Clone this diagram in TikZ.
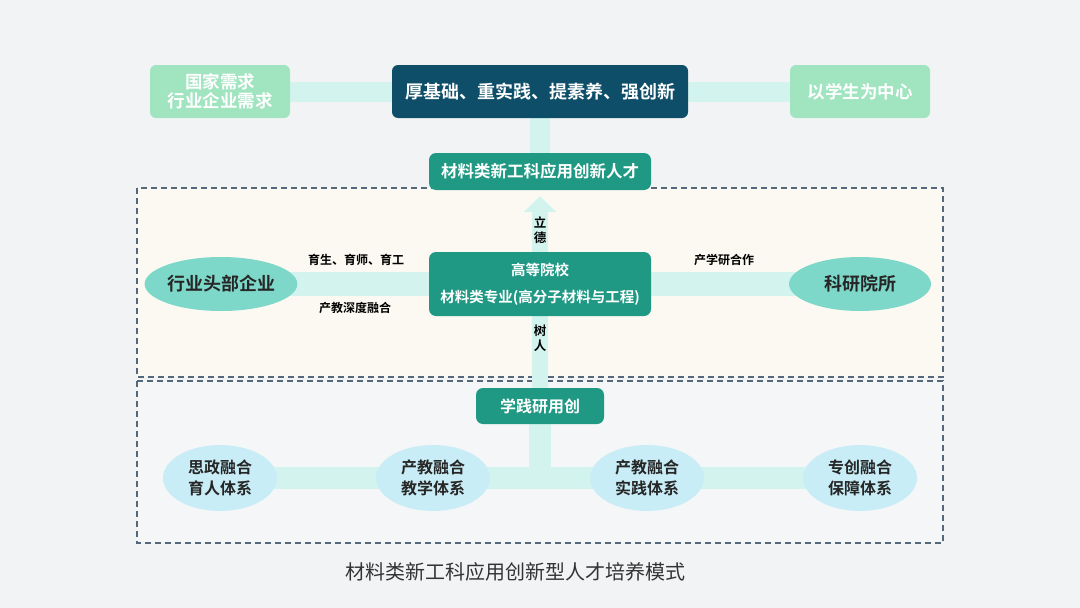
\documentclass[tikz,border=0pt]{standalone}
\usepackage{fontspec}
\setmainfont{Noto Sans CJK SC}[BoldFont={Noto Sans CJK SC Bold}]
\usetikzlibrary{arrows.meta,shapes.geometric}
\definecolor{bgc}{HTML}{F2F3F5}
\definecolor{creamc}{HTML}{FCF9F2}
\definecolor{lowc}{HTML}{F4F6F7}
\definecolor{bandc}{HTML}{D3F4EE}
\definecolor{palegreen}{HTML}{A0E4C0}
\definecolor{darkc}{HTML}{0E4E69}
\definecolor{tealc}{HTML}{1F9983}
\definecolor{aquac}{HTML}{7ED8C9}
\definecolor{lblue}{HTML}{C9EDF6}
\definecolor{dashc}{HTML}{55677A}
\definecolor{capc}{HTML}{333333}
\pgfdeclarelayer{back}
\pgfdeclarelayer{bands}
\pgfsetlayers{back,bands,main}
\tikzset{
  palebox/.style={rectangle, rounded corners=6pt, fill=palegreen, text=white, font=\bfseries\fontsize{17.5}{19}\selectfont, align=center, minimum width=140pt, minimum height=53pt, inner sep=0pt},
  darkbox/.style={rectangle, rounded corners=6pt, fill=darkc, text=white, font=\bfseries\fontsize{18}{21}\selectfont, align=center, minimum height=53pt, inner sep=0pt},
  tealbox/.style={rectangle, rounded corners=7pt, fill=tealc, text=white, align=center, inner sep=0pt},
  aquaell/.style={ellipse, fill=aquac, text=black!85, font=\bfseries\fontsize{18}{22}\selectfont, minimum width=142pt, minimum height=54pt, inner sep=0pt},
  blueell/.style={ellipse, fill=lblue, text=black!85, font=\bfseries\fontsize{16}{21}\selectfont, align=center, minimum width=114pt, minimum height=66pt, inner sep=0pt},
  lbl/.style={text=black, font=\bfseries\fontsize{12}{14}\selectfont, align=center, inner sep=0pt},
  band/.style={draw=bandc, line width=#1},
  band/.default=22pt,
  dashbox/.style={draw=dashc, line width=1.2pt, dash pattern=on 6pt off 4pt}
}
\begin{document}
\begin{tikzpicture}[x=1pt,y=-1pt]
\begin{pgfonlayer}{back}
\fill[bgc] (0,0) rectangle (1080,608);
\draw[dashbox, fill=creamc] (137,188) rectangle (943,377);
\draw[dashbox, fill=lowc] (137,381) rectangle (943,543);
\end{pgfonlayer}
\useasboundingbox (0,0) rectangle (1080,608);

% top row
\node[palebox] (nat) at (220,91.5) {国家需求\\行业企业需求};
\node[darkbox, minimum width=296pt] (core) at (540,91.5) {厚基础、重实践、提素养、强创新};
\node[palebox] (stu) at (860,91.5) {以学生为中心};
\node[tealbox, minimum width=222pt, minimum height=37pt, font=\bfseries\fontsize{16.5}{18}\selectfont] (rc) at (540,171.5) {材料类新工科应用创新人才};

% middle row
\node[tealbox, minimum width=222pt, minimum height=64pt, font=\bfseries\fontsize{14.5}{27}\selectfont] (gx) at (540,284) {高等院校\\材料类专业(高分子材料与工程)};
\node[aquaell] (ent) at (221,284) {行业头部企业};
\node[aquaell] (ky) at (860,284) {科研院所};
\node[lbl] (l1) at (356,260) {育生、育师、育工};
\node[lbl] (l2) at (355,308) {产教深度融合};
\node[lbl] (l3) at (724,260) {产学研合作};
\node[lbl, font=\bfseries\fontsize{12.5}{14.5}\selectfont] (ld) at (540,230) {立\\德};
\node[lbl, font=\bfseries\fontsize{12.5}{14.5}\selectfont] (sr) at (540,338) {树\\人};

% bottom row
\node[tealbox, minimum width=128pt, minimum height=36pt, font=\bfseries\fontsize{16}{18}\selectfont] (xj) at (540,406) {学践研用创};
\node[blueell] (e1) at (220,478) {思政融合\\育人体系};
\node[blueell] (e2) at (433,478) {产教融合\\教学体系};
\node[blueell] (e3) at (647,478) {产教融合\\实践体系};
\node[blueell] (e4) at (860,478) {专创融合\\保障体系};
\coordinate (jn) at (540,480);

\node[text=capc, font=\fontsize{20}{22}\selectfont, inner sep=0pt] (cap) at (515,572) {材料类新工科应用创新型人才培养模式};

\begin{pgfonlayer}{bands}
\draw[band=20pt] (nat.east) -- (core.west);
\draw[band=20pt] (core.east) -- (stu.west);
\draw[band=20pt] (core.south) -- (rc.north);
\draw[band=16pt, -{Triangle[width=32pt,length=16pt]}, shorten >=6pt] (gx.north) -- (rc.south);
\draw[band=24pt] (ent.center) -- (gx.center);
\draw[band=24pt] (gx.center) -- (ky.center);
\draw[band=16pt] (gx.south) -- (xj.north);
\draw[band=22pt] (xj.south) -- (jn);
\draw[band=22pt] (e1.center) -- (e4.center);
\end{pgfonlayer}
\end{tikzpicture}
\end{document}
